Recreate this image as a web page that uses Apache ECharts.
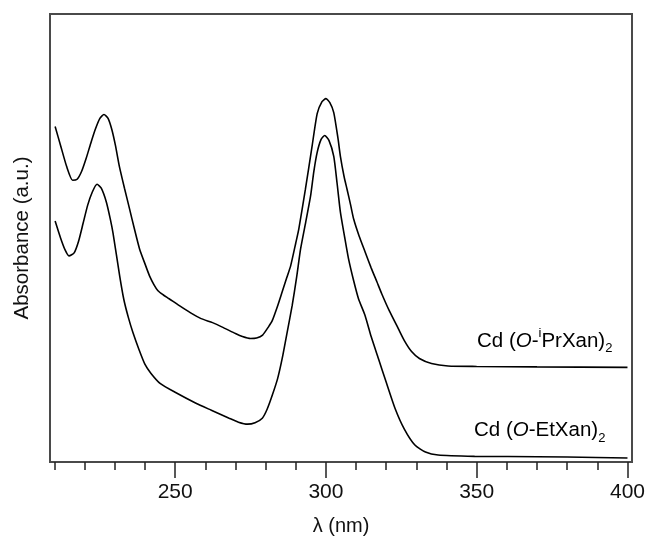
<!DOCTYPE html>
<html>
<head>
<meta charset="utf-8">
<script src="https://cdn.jsdelivr.net/npm/echarts@6/dist/echarts.min.js"></script>
<style>
  html, body { margin: 0; padding: 0; background: #fff; }
  #chart { width: 648px; height: 541px; }
</style>
</head>
<body>
<div id="chart"></div>
<script>
// wavelength (nm) / absorbance (arbitrary units, traces offset)
var iprX = [210.2, 212, 214, 216, 217.5, 219, 220.5, 222, 223.5, 225, 226.4, 227.8, 229, 230.2, 231.5,
            233.2, 234.9, 236.5, 238.2, 240, 241.5, 243, 244.3, 246, 248, 251.4, 255, 258.6, 262.4,
            266, 270, 272.3, 275, 277, 279, 281, 282.2, 284, 285.5, 287, 288.3, 290, 291, 293.2,
            295.4, 297.1, 298.7, 300, 301.3, 302.6, 304, 304.8, 306, 307, 308.2, 309.2, 311, 313,
            315, 316.9, 318.5, 321, 324, 326, 328.4, 331, 335, 340.5, 350, 370, 400];
var iprY = [337, 318, 297, 283, 284, 292, 305, 320, 334, 345, 349, 345, 334, 318, 297,
            275, 254, 234, 214, 199, 187, 178, 172, 168, 164, 157, 150, 144, 140,
            135, 129, 126, 124, 124.5, 127.5, 136, 142, 157, 171, 185, 197, 220, 234, 274,
            317, 350, 362, 365, 361, 351, 325, 307, 287, 274, 258, 244, 227, 211,
            195, 181, 169, 152, 134, 122, 111, 104, 99, 96.5, 96, 95.5, 95];

var etX = [210.2, 212, 213.5, 214.8, 216.5, 218, 219.5, 221, 222.5, 224.1, 225.5, 227.2, 228.5, 229.4,
           231.6, 233, 234.5, 236, 238, 240, 242, 245, 250, 256.9, 262, 267.9, 271, 274, 276.5, 278.9,
           280.5, 282.2, 284, 285.5, 287, 288.8, 290.3, 291.6, 293.3, 294.9, 296, 297.1, 298.4, 299.6,
           301, 302.6, 303.7, 304.8, 306.2, 307.5, 309.2, 310.8, 313, 315, 317.4, 320, 322.9, 326,
           329.5, 333, 337.2, 349.3, 360.3, 380, 400];
var etY = [242, 225, 213, 207, 210, 222, 240, 258, 271, 279, 275, 261, 244, 230,
           187, 163, 145, 130, 113, 98, 89, 79, 70, 59, 52, 44, 40, 38, 39.5, 44,
           53, 67, 84, 104, 128, 157, 186, 214, 241, 267, 292, 311, 324, 328,
           323, 307, 280, 251, 226, 204, 182, 164, 147, 126, 104, 80, 54, 33,
           17, 10, 7, 5.7, 5.5, 5, 4];

var minorTicks = [210, 220, 230, 240, 250, 260, 270, 280, 290, 300, 310, 320, 330, 340, 350, 360, 370, 380, 390, 400];
var majorTicks = [250, 300, 350, 400];

function pairs(xs, ys) {
    var out = [];
    xs.forEach(function (x, i) { out.push([x, ys[i]]); });
    return out;
}

var myChart = echarts.init(document.getElementById('chart'));

var axisColor = '#4a4a4a';
var fontName = 'Liberation Sans';

var richLabel = {
    a: { fontSize: 20.5, fontFamily: fontName, color: '#111', lineHeight: 28, verticalAlign: 'middle' },
    it: { fontSize: 20.5, fontFamily: fontName, color: '#111', fontStyle: 'italic', lineHeight: 28, verticalAlign: 'middle' },
    sup: { fontSize: 13, fontFamily: fontName, color: '#111', lineHeight: 12, verticalAlign: 'top' },
    sub: { fontSize: 13, fontFamily: fontName, color: '#111', lineHeight: 12, verticalAlign: 'bottom' }
};

var option = {
    animation: false,
    backgroundColor: '#fff',
    grid: {
        left: 50, right: 14, top: 14, bottom: 77,
        show: true, borderColor: axisColor, borderWidth: 2, backgroundColor: 'transparent'
    },
    xAxis: [
        {
            type: 'value', min: 208.5, max: 401.5, position: 'bottom',
            axisLine: { show: true, lineStyle: { color: axisColor, width: 2 } },
            axisTick: { show: true, customValues: minorTicks, length: 8, lineStyle: { color: '#222', width: 1.5 } },
            axisLabel: { show: false },
            splitLine: { show: false }
        },
        {
            type: 'value', min: 208.5, max: 401.5, position: 'bottom',
            axisLine: { show: false },
            axisTick: { show: true, customValues: majorTicks, length: 16, lineStyle: { color: '#222', width: 1.5 } },
            axisLabel: { show: true, customValues: majorTicks, margin: 20, fontSize: 21, fontFamily: fontName, color: '#111' },
            splitLine: { show: false },
            name: 'λ (nm)', nameLocation: 'middle', nameGap: 54,
            nameTextStyle: { fontSize: 20, fontFamily: fontName, color: '#111' }
        }
    ],
    yAxis: {
        type: 'value', min: 0, max: 450,
        axisLine: { show: false }, axisTick: { show: false }, axisLabel: { show: false },
        splitLine: { show: false },
        name: 'Absorbance (a.u.)', nameLocation: 'middle', nameGap: 17,
        nameTextStyle: { fontSize: 20.5, fontFamily: fontName, color: '#111' }
    },
    series: [
        {
            name: 'Cd (O-iPrXan)2', type: 'line', xAxisIndex: 0, data: pairs(iprX, iprY),
            showSymbol: false, smooth: 0.2, lineStyle: { color: '#000', width: 1.6 }
        },
        {
            name: 'Cd (O-EtXan)2', type: 'line', xAxisIndex: 0, data: pairs(etX, etY),
            showSymbol: false, smooth: 0.2, lineStyle: { color: '#000', width: 1.6 }
        }
    ],
    graphic: [
        {
            type: 'text', left: 477, top: 327,
            style: { text: '{a|Cd (}{it|O}{a|-}{sup|i}{a|PrXan)}{sub|2}', rich: richLabel }
        },
        {
            type: 'text', left: 474, top: 420,
            style: { text: '{a|Cd (}{it|O}{a|-EtXan)}{sub|2}', rich: richLabel }
        }
    ]
};

myChart.setOption(option);
</script>
</body>
</html>
